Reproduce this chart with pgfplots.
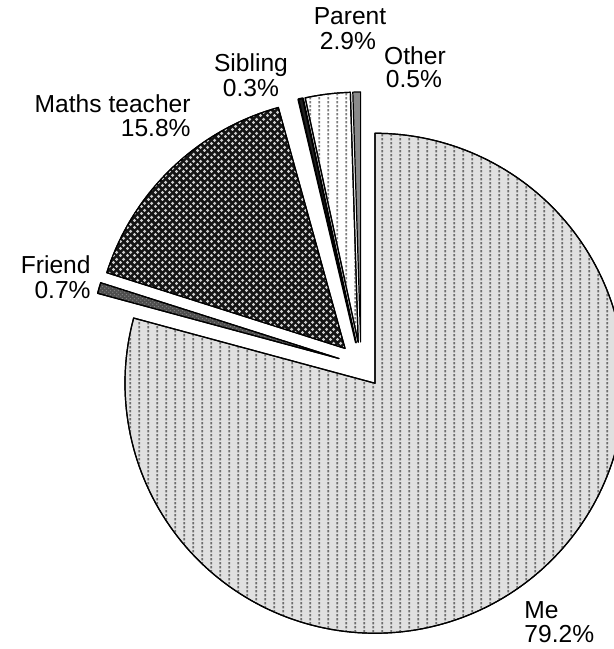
\documentclass[border=0pt]{standalone}
\usepackage{pgfplots}
\pgfplotsset{compat=1.18}
\usepackage{pgfplotstable}
\usetikzlibrary{patterns}
\usepackage{fontspec}
\setmainfont{Liberation Sans}

\definecolor{mefill}{HTML}{E0E0E0}
\definecolor{medot}{HTML}{6E6E6E}
\definecolor{pardot}{HTML}{7E7E7E}
\definecolor{mathfill}{HTML}{151515}
\definecolor{mathdot}{HTML}{CFCFCF}
\definecolor{frfill}{HTML}{4D4D4D}
\definecolor{frdot}{HTML}{808080}
\definecolor{sibfill}{HTML}{202020}
\definecolor{othfill}{HTML}{8A8A8A}

% vertical dotted lines (Me, Parent)
\pgfdeclarepatternformonly{vdots}{\pgfpointorigin}{\pgfpoint{4.5bp}{2.15bp}}{\pgfpoint{4.5bp}{2.15bp}}{%
  \pgfpathrectangle{\pgfpoint{1.9bp}{0.4bp}}{\pgfpoint{0.9bp}{1.3bp}}\pgfusepath{fill}}
% light dots on a diagonal lattice (Maths teacher)
\pgfdeclarepatternformonly{lattice}{\pgfpointorigin}{\pgfpoint{3.5bp}{3.5bp}}{\pgfpoint{3.5bp}{3.5bp}}{%
  \pgfpathcircle{\pgfpoint{0.875bp}{0.875bp}}{0.95bp}%
  \pgfpathcircle{\pgfpoint{2.625bp}{2.625bp}}{0.95bp}\pgfusepath{fill}}
\pgfdeclarepatternformonly{finedots}{\pgfpointorigin}{\pgfpoint{2bp}{2bp}}{\pgfpoint{2bp}{2bp}}{%
  \pgfpathcircle{\pgfpoint{0.5bp}{0.5bp}}{0.45bp}%
  \pgfpathcircle{\pgfpoint{1.5bp}{1.5bp}}{0.45bp}\pgfusepath{fill}}

\tikzset{
  edge/.style={draw=black, line width=0.6bp, line join=round},
  meslice/.style={edge, preaction={fill=mefill}, pattern=vdots, pattern color=medot},
  frslice/.style={edge, preaction={fill=frfill}, pattern=finedots, pattern color=frdot},
  mathslice/.style={edge, preaction={fill=mathfill}, pattern=lattice, pattern color=mathdot},
  sibslice/.style={edge, line width=1bp, fill=sibfill},
  parslice/.style={edge, preaction={fill=white}, pattern=vdots, pattern color=pardot},
  othslice/.style={edge, fill=othfill},
  lbl/.style={inner sep=0pt, font=\fontsize{12.3bp}{14bp}\selectfont},
}

% percentages
\pgfplotstableread{
slice   pct
Me      79.2
Friend  0.7
Maths   15.8
Sibling 0.3
Parent  2.9
Other   0.5
}\piedata

% one exploded wedge: start angle, end angle, style
% centre (361,284) in pixel units, radius 250, explode 23
\newcommand\pieslice[3]{%
  \pgfmathsetmacro\slmid{(#1+#2)/2}%
  \pgfmathsetmacro\ox{361+23*cos(\slmid)}%
  \pgfmathsetmacro\oy{284+23*sin(\slmid)}%
  \pgfmathsetmacro\ns{int(max(4,abs(#2-#1)/1.5))}%
  \edef\doslice{\noexpand\addplot[#3, domain=#1:#2, samples=\ns, variable=\noexpand\t]
    ({\ox+250*cos(\noexpand\t)},{\oy+250*sin(\noexpand\t)}) -- (\ox,\oy) -- cycle;}%
  \doslice}

\begin{document}
\begin{tikzpicture}
\pgfplotstablegetelem{0}{pct}\of\piedata \let\pMe\pgfplotsretval
\pgfplotstablegetelem{1}{pct}\of\piedata \let\pFr\pgfplotsretval
\pgfplotstablegetelem{2}{pct}\of\piedata \let\pMa\pgfplotsretval
\pgfplotstablegetelem{3}{pct}\of\piedata \let\pSi\pgfplotsretval
\pgfplotstablegetelem{4}{pct}\of\piedata \let\pPa\pgfplotsretval
\pgfplotstablegetelem{5}{pct}\of\piedata \let\pOt\pgfplotsretval
% clockwise from 12 o'clock: Me, Friend, Maths teacher
\pgfmathsetmacro\aMe{90-3.6*\pMe}
\pgfmathsetmacro\aFr{\aMe-3.6*\pFr}
\pgfmathsetmacro\aMa{\aFr-3.6*\pMa}
% anticlockwise from 12 o'clock: Other, Parent, Sibling
\pgfmathsetmacro\aOt{90+3.6*\pOt}
\pgfmathsetmacro\aPa{\aOt+3.6*\pPa}
\pgfmathsetmacro\aSi{\aPa+3.6*\pSi}
\begin{axis}[
    scale only axis, width=307bp, height=324.5bp,
    xmin=0, xmax=614, ymin=0, ymax=649,
    hide axis, no markers, clip=true,
]
\path (rel axis cs:0,0) rectangle (rel axis cs:1,1);
\pieslice{90}{\aMe}{meslice}
\pieslice{\aMe}{\aFr}{frslice}
\pieslice{\aFr}{\aMa}{mathslice}
\pieslice{\aPa}{\aSi}{sibslice}
\pieslice{\aOt}{\aPa}{parslice}
\pieslice{90}{\aOt}{othslice}

\node[lbl, anchor=base west] at (524,31) {Me};
\node[lbl, anchor=base west] at (524,7) {79.2\%};
\node[lbl, anchor=base east] at (91,375) {Friend};
\node[lbl, anchor=base east] at (91,350) {0.7\%};
\node[lbl, anchor=base east] at (191,536) {Maths teacher};
\node[lbl, anchor=base east] at (191,512) {15.8\%};
\node[lbl, anchor=base] at (251,577) {Sibling};
\node[lbl, anchor=base] at (251,552) {0.3\%};
\node[lbl, anchor=base] at (350,624) {Parent};
\node[lbl, anchor=base] at (348,599) {2.9\%};
\node[lbl, anchor=base] at (415,584) {Other};
\node[lbl, anchor=base] at (414,561) {0.5\%};
\end{axis}
\end{tikzpicture}
\end{document}
